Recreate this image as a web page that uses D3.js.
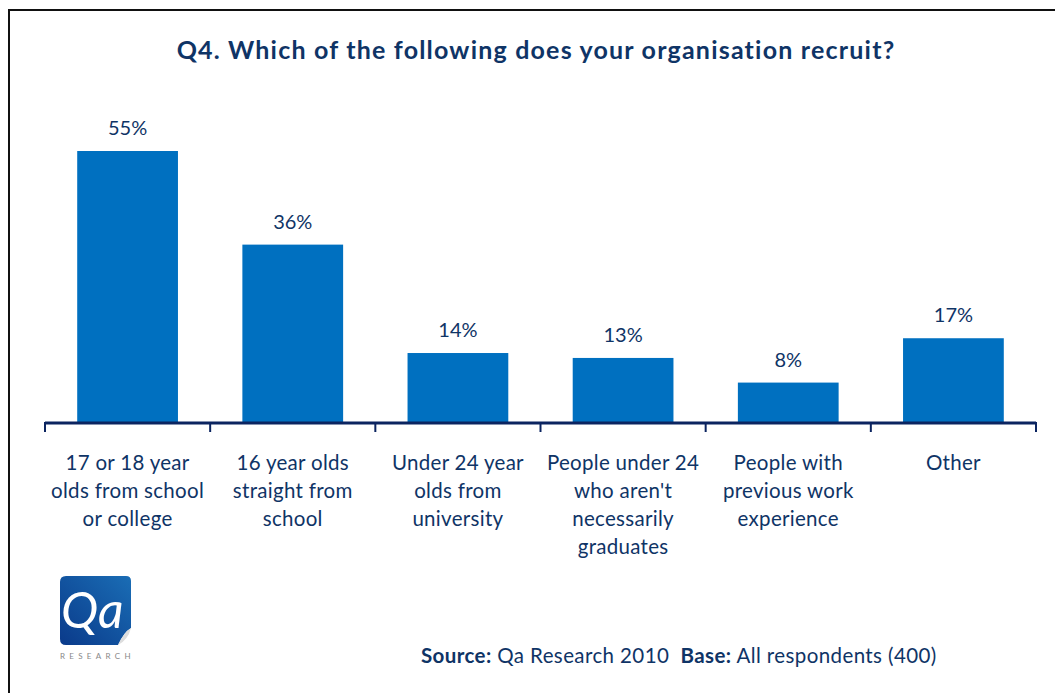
<!DOCTYPE html>
<html>
<head>
<meta charset="utf-8">
<script src="https://cdn.jsdelivr.net/npm/d3@7"></script>
<style>
  html, body { margin: 0; padding: 0; background: #fff; }
  svg { display: block; }
  text { font-family: Lato, "Open Sans", sans-serif; }
</style>
</head>
<body>
<svg id="chart" width="1055" height="693"></svg>
<script>
// Survey responses (% of respondents)
const categories = [
  ["17 or 18 year", "olds from school", "or college"],
  ["16 year olds", "straight from", "school"],
  ["Under 24 year", "olds from", "university"],
  ["People under 24", "who aren't", "necessarily", "graduates"],
  ["People with", "previous work", "experience"],
  ["Other"]
];
const values = [55, 36, 14, 13, 8, 17];
const valueLabels = ["55%", "36%", "14%", "13%", "8%", "17%"];

const svg = d3.select("#chart");
const navy = "#0f3466";
const axisNavy = "#0b2460";
const barBlue = "#0070c0";

// Frame
svg.append("path")
  .attr("d", "M9,693 V10 H1055")
  .attr("fill", "none")
  .attr("stroke", "#111")
  .attr("stroke-width", 2);

// Title
svg.append("text")
  .attr("x", 536).attr("y", 59)
  .attr("text-anchor", "middle")
  .attr("font-size", 25).attr("font-weight", "bold")
  .attr("letter-spacing", 1.2)
  .attr("fill", navy)
  .text("Q4. Which of the following does your organisation recruit?");

const left = 45, right = 1036, baseline = 422;
const keys = categories.map((d, i) => i);
const x = d3.scaleBand().domain(keys).range([left, right]).paddingInner(0.39).paddingOuter(0.195);
const xc = d3.scaleBand().domain(keys).range([left, right]);
const y = d3.scaleLinear().domain([0, 55]).range([baseline, 151]);

// Bars
svg.append("g").selectAll("rect")
  .data(values)
  .join("rect")
  .attr("x", (d, i) => x(i))
  .attr("y", d => y(d))
  .attr("width", x.bandwidth())
  .attr("height", d => baseline - y(d))
  .attr("fill", barBlue);

// Value labels
svg.append("g").selectAll("text")
  .data(values)
  .join("text")
  .attr("x", (d, i) => x(i) + x.bandwidth() / 2)
  .attr("y", d => y(d) - 16)
  .attr("text-anchor", "middle")
  .attr("font-size", 20)
  .attr("fill", navy)
  .text((d, i) => valueLabels[i]);

// Category axis: line plus tick marks at band boundaries
const axis = svg.append("g").attr("stroke", axisNavy);
axis.append("line")
  .attr("x1", left).attr("x2", right)
  .attr("y1", baseline + 1).attr("y2", baseline + 1)
  .attr("stroke-width", 3);
const boundaries = keys.map(k => xc(k)).concat([right]);
axis.selectAll("line.tick")
  .data(boundaries)
  .join("line")
  .attr("class", "tick")
  .attr("x1", d => d).attr("x2", d => d)
  .attr("y1", baseline).attr("y2", baseline + 10)
  .attr("stroke-width", 2);

// Category labels
const labels = svg.append("g").selectAll("text")
  .data(categories)
  .join("text")
  .attr("x", (d, i) => xc(i) + xc.bandwidth() / 2)
  .attr("y", 470)
  .attr("text-anchor", "middle")
  .attr("font-size", 20.5)
  .attr("letter-spacing", 0.3)
  .attr("fill", navy);
labels.selectAll("tspan")
  .data(d => d)
  .join("tspan")
  .attr("x", function() { return this.parentNode.getAttribute("x"); })
  .attr("dy", (d, i) => i === 0 ? 0 : 28)
  .text(d => d);

// Logo
const logo = svg.append("g");
const grad = svg.append("defs").append("linearGradient")
  .attr("id", "logoGrad").attr("x1", "0").attr("y1", "1").attr("x2", "1").attr("y2", "0");
grad.append("stop").attr("offset", "0").attr("stop-color", "#0a3a8a");
grad.append("stop").attr("offset", "1").attr("stop-color", "#1a6db5");
logo.append("path")
  .attr("d", "M66,576 H126 Q131,576 131,581 V628 Q124,632 118,645 H66 Q60,645 60,639 V582 Q60,576 66,576 Z")
  .attr("fill", "url(#logoGrad)");
logo.append("path")
  .attr("d", "M131,628 Q124,632 118,645 Q128,640 131,628 Z")
  .attr("fill", "#ddd");
logo.append("text")
  .attr("x", 61).attr("y", 628)
  .attr("font-family", "'DejaVu Serif', serif")
  .attr("font-style", "italic")
  .attr("font-size", 50)
  .attr("fill", "#fff")
  .text("Qa");
logo.append("text")
  .attr("x", 60).attr("y", 659)
  .attr("font-size", 8)
  .attr("letter-spacing", 4.3)
  .attr("fill", "#888")
  .text("RESEARCH");

// Source line
const src = svg.append("text")
  .attr("x", 421).attr("y", 663)
  .attr("font-size", 20.5)
  .attr("letter-spacing", 0.4)
  .attr("fill", navy)
  .attr("xml:space", "preserve");
src.append("tspan").attr("font-weight", "bold").text("Source:");
src.append("tspan").text(" Qa Research 2010  ");
src.append("tspan").attr("font-weight", "bold").text("Base:");
src.append("tspan").text(" All respondents (400)");
</script>
</body>
</html>
